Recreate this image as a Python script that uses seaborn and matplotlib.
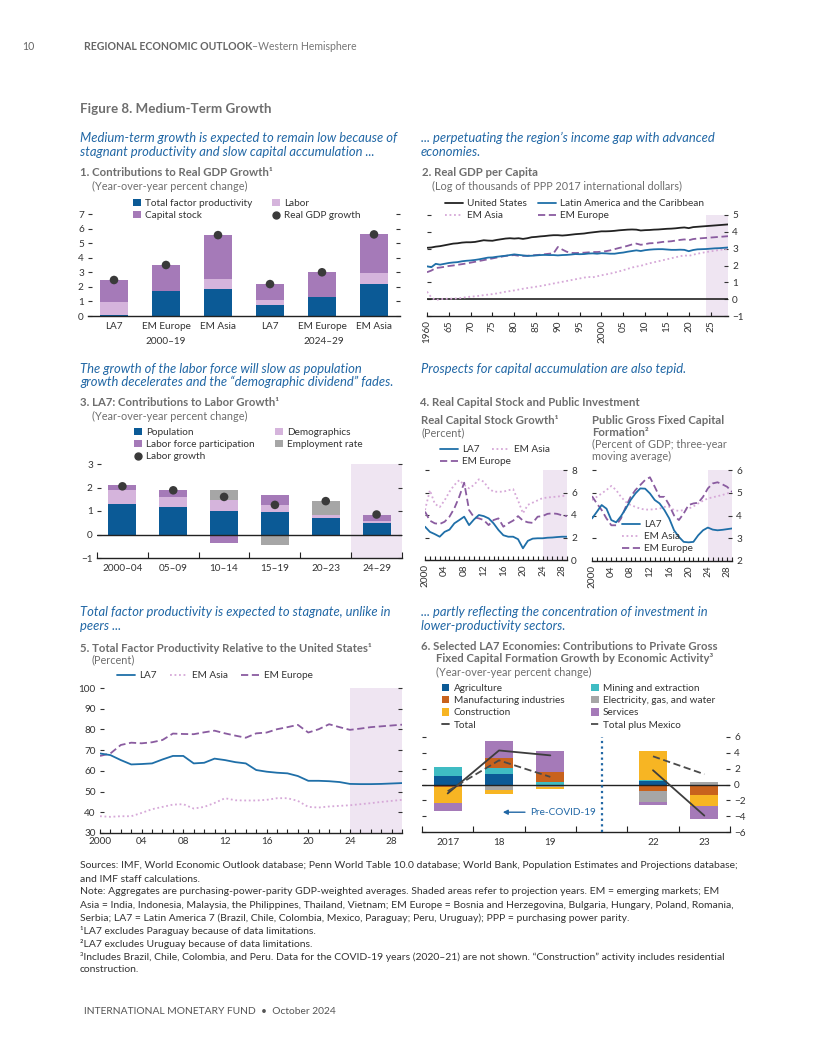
#%% Bibliotecas
import numpy as np
import matplotlib
matplotlib.use('Agg')
import matplotlib.pyplot as plt
import seaborn as sns
from matplotlib.patches import Patch
from matplotlib.lines import Line2D

sns.set_theme(style="white")
plt.rcParams['font.family'] = ['Lato', 'DejaVu Sans']

#%% Dados

# Painel 1: contribuições ao crescimento do PIB real
p1_groups = ['LA7', 'EM Europe', 'EM Asia', 'LA7', 'EM Europe', 'EM Asia']
p1_tfp = [0.09, 1.70, 1.87, 0.76, 1.27, 2.19]
p1_labor = [0.88, 0.00, 0.66, 0.32, 0.04, 0.74]
p1_capital = [1.50, 1.80, 3.05, 1.09, 1.69, 2.72]
p1_gdp = [2.47, 3.50, 5.55, 2.19, 3.00, 5.60]

# Painel 2: PIB real per capita (log)
p2_years = list(range(1960, 2030))
p2_us = [3.05, 3.07, 3.12, 3.15, 3.20, 3.25, 3.30, 3.32, 3.36, 3.38,
         3.38, 3.40, 3.45, 3.50, 3.48, 3.47, 3.52, 3.56, 3.60, 3.62,
         3.60, 3.62, 3.58, 3.62, 3.68, 3.70, 3.73, 3.75, 3.78, 3.80,
         3.80, 3.78, 3.80, 3.83, 3.86, 3.88, 3.90, 3.94, 3.97, 4.00,
         4.03, 4.03, 4.04, 4.06, 4.09, 4.11, 4.13, 4.14, 4.13, 4.08,
         4.10, 4.11, 4.13, 4.14, 4.16, 4.18, 4.19, 4.21, 4.24, 4.26,
         4.22, 4.28, 4.30, 4.32, 4.34, 4.36, 4.38, 4.40, 4.42, 4.44]
p2_lac = [1.95, 1.90, 2.10, 2.05, 2.10, 2.15, 2.18, 2.20, 2.25, 2.28,
          2.30, 2.33, 2.37, 2.42, 2.47, 2.48, 2.52, 2.55, 2.58, 2.62,
          2.66, 2.63, 2.60, 2.57, 2.58, 2.60, 2.62, 2.63, 2.62, 2.62,
          2.60, 2.62, 2.63, 2.65, 2.68, 2.67, 2.68, 2.71, 2.72, 2.70,
          2.73, 2.72, 2.70, 2.70, 2.74, 2.77, 2.82, 2.86, 2.90, 2.86,
          2.91, 2.94, 2.96, 2.97, 2.97, 2.95, 2.93, 2.93, 2.94, 2.93,
          2.85, 2.92, 2.96, 2.97, 2.98, 3.00, 3.02, 3.03, 3.05, 3.07]
p2_asia = [0.45, 0.10, -0.05, 0.00, 0.02, 0.03, 0.03, 0.05, 0.08, 0.12,
           0.15, 0.17, 0.20, 0.24, 0.27, 0.30, 0.34, 0.39, 0.44, 0.48,
           0.52, 0.57, 0.62, 0.66, 0.70, 0.74, 0.78, 0.83, 0.88, 0.93,
           0.98, 1.03, 1.08, 1.13, 1.18, 1.23, 1.28, 1.32, 1.30, 1.36,
           1.42, 1.47, 1.52, 1.58, 1.65, 1.72, 1.80, 1.88, 1.94, 1.98,
           2.06, 2.13, 2.19, 2.25, 2.31, 2.37, 2.43, 2.49, 2.55, 2.60,
           2.57, 2.64, 2.70, 2.75, 2.80, 2.84, 2.88, 2.92, 2.96, 3.00]
p2_eur = [1.60, 1.70, 1.85, 1.88, 1.92, 1.97, 2.00, 2.04, 2.08, 2.12,
          2.17, 2.22, 2.27, 2.32, 2.37, 2.42, 2.47, 2.52, 2.57, 2.60,
          2.62, 2.58, 2.57, 2.58, 2.60, 2.62, 2.64, 2.67, 2.70, 2.72,
          3.10, 2.95, 2.82, 2.75, 2.74, 2.75, 2.76, 2.78, 2.80, 2.80,
          2.82, 2.85, 2.90, 2.97, 3.04, 3.10, 3.17, 3.25, 3.30, 3.23,
          3.27, 3.32, 3.33, 3.36, 3.40, 3.42, 3.44, 3.48, 3.52, 3.55,
          3.50, 3.57, 3.60, 3.62, 3.64, 3.66, 3.68, 3.70, 3.72, 3.74]
p2_ticklabels = ['1960', '65', '70', '75', '80', '85', '90', '95',
                 '2000', '05', '10', '15', '20', '25']

# Painel 3: LA7, contribuições ao crescimento do trabalho
p3_periods = ['2000–04', '05–09', '10–14', '15–19', '20–23', '24–29']
p3_pop = [1.28, 1.16, 0.99, 0.95, 0.70, 0.49]
p3_demo = [0.63, 0.44, 0.46, 0.29, 0.12, 0.10]
p3_lfp = [0.21, 0.31, -0.35, 0.46, 0.00, 0.26]
p3_emp = [0.00, 0.00, 0.46, -0.46, 0.59, 0.00]
p3_growth = [2.05, 1.88, 1.60, 1.26, 1.42, 0.85]

# Painéis 4 e 5: séries anuais 2000-2029
yrs = list(range(2000, 2030))
yr_labels = ['2000', '04', '08', '12', '16', '20', '24', '28']
p4a_la7 = [2.96, 2.50, 2.30, 2.07, 2.50, 2.70, 3.26, 3.55, 3.85, 3.10,
           3.60, 4.00, 3.90, 3.70, 3.26, 2.67, 2.20, 2.07, 2.07, 1.85,
           1.04, 1.70, 1.90, 1.93, 1.93, 1.98, 2.00, 2.04, 2.07, 2.07]
p4a_asia = [4.44, 6.20, 5.00, 4.70, 5.30, 6.07, 6.67, 7.10, 6.67, 6.37,
            6.67, 7.17, 6.96, 6.37, 6.07, 6.07, 6.07, 6.20, 6.30, 5.30,
            4.15, 4.90, 5.10, 5.30, 5.50, 5.55, 5.60, 5.63, 5.70, 5.70]
p4a_eur = [4.30, 3.50, 3.26, 3.20, 3.40, 3.85, 4.60, 5.63, 6.87, 4.44,
           3.80, 3.70, 3.55, 3.10, 3.55, 3.70, 2.96, 3.26, 3.50, 3.90,
           3.50, 3.35, 3.30, 3.85, 3.90, 4.10, 4.15, 4.10, 3.97, 3.90]
p4b_la7 = [3.87, 4.16, 4.46, 4.30, 3.80, 3.70, 3.97, 4.30, 4.68, 4.97,
           5.19, 5.18, 4.97, 4.68, 4.53, 4.24, 3.87, 3.35, 3.06, 2.84,
           2.82, 2.84, 3.13, 3.35, 3.47, 3.38, 3.35, 3.37, 3.40, 3.43]
p4b_asia = [4.68, 4.82, 4.97, 5.12, 5.30, 5.12, 4.82, 4.60, 4.46, 4.38,
            4.30, 4.26, 4.26, 4.28, 4.30, 4.38, 4.38, 4.24, 4.20, 4.24,
            4.30, 4.40, 4.53, 4.65, 4.75, 4.80, 4.85, 4.90, 4.97, 5.04]
p4b_eur = [4.85, 4.53, 4.24, 3.87, 3.57, 3.57, 3.87, 4.38, 4.82, 5.12,
           5.34, 5.56, 5.68, 5.26, 4.82, 4.82, 4.46, 4.00, 3.80, 4.09,
           4.46, 4.53, 4.56, 4.82, 5.19, 5.41, 5.46, 5.37, 5.26, 5.04]
p5_la7 = [68.4, 67.6, 65.2, 63.1, 63.3, 63.6, 65.5, 67.2, 67.2, 63.6,
          63.9, 65.9, 65.2, 64.2, 63.6, 60.4, 59.6, 59.1, 58.8, 57.5,
          55.2, 55.2, 55.0, 54.6, 53.7, 53.6, 53.6, 53.7, 53.9, 54.1]
p5_asia = [38.1, 37.8, 38.1, 38.1, 39.7, 41.5, 42.6, 43.7, 43.9, 41.8,
           42.6, 44.5, 46.8, 45.8, 45.7, 45.7, 46.0, 46.8, 46.8, 45.5,
           42.6, 42.3, 42.8, 43.1, 43.4, 43.9, 44.4, 45.0, 45.5, 46.0]
p5_eur = [67.2, 68.4, 72.5, 73.6, 73.3, 73.8, 74.9, 78.0, 77.8, 77.7,
          78.6, 79.4, 78.1, 77.0, 76.0, 78.1, 78.5, 80.1, 81.1, 82.2,
          78.5, 80.1, 82.5, 81.1, 79.8, 80.4, 81.1, 81.5, 81.9, 82.3]

# Painel 6: FBCF privada por atividade
p6_years = [2017, 2018, 2019, 2022, 2023]
p6_labels = ['2017', '18', '19', '22', '23']
p6_agri = [1.05, 1.30, 0.00, 0.46, 0.00]
p6_mining = [1.13, 0.75, 0.33, 0.17, 0.00]
p6_manuf = [-0.30, 1.30, 1.27, -0.80, -1.34]
p6_elec = [0.00, -0.70, -0.33, -1.40, 0.30]
p6_constr = [-2.00, -0.50, -0.27, 3.55, -1.38]
p6_serv = [-1.00, 2.13, 2.58, -0.33, -1.58]
p6_total = [-1.13, 4.30, 3.68, 1.80, -3.93]
p6_total_mex = [-0.85, 3.05, 0.96, 3.56, 1.30]

#%% Cores
BLUE = '#0b5a96'
LINEBLUE = '#1f6fa8'
PURPLE = '#a57ab8'
LPURPLE = '#d5b4dc'
GRAY = '#a6a6a6'
DOT = '#3a3a3a'
ASIA = '#d6a8d8'
EUR = '#8a5ca0'
SHADE = '#efe5f2'
TEAL = '#3fbcc3'
ORANGE = '#c8621d'
YELLOW = '#f7b523'
TITLE = '#6e6e6e'
ITAL = '#2167a5'
DOTTED = (0, (1, 1.5))
DASHED = (0, (4, 2))

#%% Figura e funções auxiliares
W, H = 816, 1056
fig = plt.figure(figsize=(W / 100, H / 100), dpi=100)


def ax_px(x0, y0, x1, y1):
    ax = fig.add_axes([x0 / W, 1 - y1 / H, (x1 - x0) / W, (y1 - y0) / H])
    ax.set_facecolor('none')
    for s in ['top', 'left', 'right']:
        ax.spines[s].set_visible(False)
    ax.spines['bottom'].set_color('#222222')
    ax.spines['bottom'].set_linewidth(1)
    return ax


def y_style(ax, ylim, ticks, side):
    ax.set_ylim(*ylim)
    ax.set_yticks(ticks)
    ax.tick_params(axis='y', direction='in', length=3, width=0.8, color='#333333',
                   left=True, right=True, labelleft=(side == 'left'),
                   labelright=(side == 'right'), labelsize=7.2, labelcolor='#333333', pad=3)


def x_years(ax, rot):
    ax.set_xlim(2000, 2029)
    ax.set_xticks(range(2000, 2029, 4))
    ax.set_xticklabels(yr_labels, rotation=rot)
    ax.set_xticks(yrs, minor=True)
    ax.tick_params(axis='x', which='both', direction='in', bottom=True, length=3,
                   width=0.8, color='#222222', labelsize=7.2, labelcolor='#333333', pad=3)


def x_cats(ax, labels, pos, n):
    ax.set_xlim(-0.5, n - 0.5)
    ax.set_xticks(pos)
    ax.set_xticklabels(labels)
    ax.set_xticks(np.arange(-0.5, n, 1.0), minor=True)
    ax.tick_params(axis='x', which='major', length=0, labelsize=7.2, labelcolor='#333333', pad=4)
    ax.tick_params(axis='x', which='minor', direction='in', bottom=True, length=4,
                   width=0.8, color='#222222')


def stack(ax, x, parts, colors, width=0.55):
    pos = np.zeros(len(x))
    neg = np.zeros(len(x))
    for vals, c in zip(parts, colors):
        v = np.array(vals, dtype=float)
        base = np.where(v >= 0, pos, neg)
        ax.bar(x, v, width, bottom=base, color=c, linewidth=0, zorder=2)
        pos = pos + np.clip(v, 0, None)
        neg = neg + np.clip(v, None, 0)


def txt(x, y, s, **kw):
    kw.setdefault('va', 'center')
    kw.setdefault('color', '#333333')
    return fig.text(x / W, 1 - y / H, s, **kw)


def title(x, y, s):
    txt(x, y, s, fontsize=8.2, fontweight='bold', color=TITLE)


def sub(x, y, s):
    txt(x, y, s, fontsize=7.8, color=TITLE)


def blue(x, y, s):
    txt(x, y, s, fontsize=9.4, style='italic', color=ITAL)


def legend_at(handles, labels, x, y, hl=0.75):
    fig.legend(handles, labels, loc='upper left', bbox_to_anchor=(x / W, 1 - (y - 5) / H),
               frameon=False, fontsize=7.2, handlelength=hl, handleheight=0.75,
               handletextpad=0.45, labelspacing=0.3, borderpad=0, borderaxespad=0,
               labelcolor='#333333')


def sq(c):
    return Patch(facecolor=c, edgecolor='none')


def ln(c, ls='-'):
    return Line2D([], [], color=c, lw=1.3, linestyle=ls)


dot = Line2D([], [], color=DOT, marker='o', markersize=5, linestyle='none')

#%% Cabeçalho e textos
txt(22, 47, '10', fontsize=7.6, color='#666666')
txt(84, 47, 'REGIONAL ECONOMIC OUTLOOK', fontsize=7.6, fontweight='bold', color='#666666')
txt(252, 47, '–Western Hemisphere', fontsize=7.6, color='#777777')
txt(80, 109, 'Figure 8. Medium-Term Growth', fontsize=9.6, fontweight='bold', color=TITLE)

blue(80, 138, 'Medium-term growth is expected to remain low because of')
blue(80, 152, 'stagnant productivity and slow capital accumulation ...')
blue(421, 138, '... perpetuating the region’s income gap with advanced')
blue(421, 152, 'economies.')
blue(80, 369, 'The growth of the labor force will slow as population')
blue(80, 382, 'growth decelerates and the “demographic dividend” fades.')
blue(421, 369, 'Prospects for capital accumulation are also tepid.')
blue(80, 612, 'Total factor productivity is expected to stagnate, unlike in')
blue(80, 626, 'peers ...')
blue(421, 612, '... partly reflecting the concentration of investment in')
blue(421, 626, 'lower-productivity sectors.')

#%% Painel 1
title(80, 173, '1. Contributions to Real GDP Growth¹')
sub(92, 186, '(Year-over-year percent change)')
ax1 = ax_px(88, 214, 400, 316)
x1 = np.arange(len(p1_groups))
stack(ax1, x1, [p1_tfp, p1_labor, p1_capital], [BLUE, LPURPLE, PURPLE])
sns.scatterplot(x=x1, y=p1_gdp, ax=ax1, color=DOT, s=38, edgecolor='none', zorder=5)
y_style(ax1, (0, 7), range(0, 8), 'left')
ax1.set_xlim(-0.5, 5.5)
ax1.set_xticks(x1)
ax1.set_xticklabels(p1_groups)
ax1.tick_params(axis='x', length=0, labelsize=7.2, labelcolor='#333333', pad=4)
txt(166, 341, '2000–19', ha='center', fontsize=7.2)
txt(324, 341, '2024–29', ha='center', fontsize=7.2)
legend_at([sq(BLUE), sq(PURPLE)], ['Total factor productivity', 'Capital stock'], 133, 204)
legend_at([sq(LPURPLE), dot], ['Labor', 'Real GDP growth'], 272, 204)

#%% Painel 2
title(422, 173, '2. Real GDP per Capita')
sub(432, 186, '(Log of thousands of PPP 2017 international dollars)')
ax2 = ax_px(427, 215, 728, 316)
ax2.axvspan(2024, 2029, color=SHADE, lw=0, zorder=0)
ax2.axhline(0, color='#222222', lw=1.2, zorder=1)
sns.lineplot(x=p2_years, y=p2_asia, ax=ax2, color=ASIA, lw=1.3, linestyle=DOTTED)
sns.lineplot(x=p2_years, y=p2_eur, ax=ax2, color=EUR, lw=1.3, linestyle=DASHED)
sns.lineplot(x=p2_years, y=p2_lac, ax=ax2, color=LINEBLUE, lw=1.3)
sns.lineplot(x=p2_years, y=p2_us, ax=ax2, color='#222222', lw=1.3)
y_style(ax2, (-1, 5), range(-1, 6), 'right')
ax2.set_xlim(1960, 2029)
ax2.set_xticks(range(1960, 2026, 5))
ax2.set_xticklabels(p2_ticklabels, rotation=90)
ax2.tick_params(axis='x', direction='in', bottom=True, length=3, width=0.8,
                color='#222222', labelsize=7.2, labelcolor='#333333', pad=3)
legend_at([ln('#222222'), ln(ASIA, DOTTED)], ['United States', 'EM Asia'], 445, 204, hl=1.8)
legend_at([ln(LINEBLUE), ln(EUR, DASHED)], ['Latin America and the Caribbean', 'EM Europe'], 538, 204, hl=1.8)

#%% Painel 3
title(80, 403, '3. LA7: Contributions to Labor Growth¹')
sub(92, 416, '(Year-over-year percent change)')
ax3 = ax_px(97, 464, 402, 558)
x3 = np.arange(len(p3_periods))
ax3.axvspan(4.5, 5.5, color=SHADE, lw=0, zorder=0)
stack(ax3, x3, [p3_pop, p3_demo, p3_lfp, p3_emp], [BLUE, LPURPLE, PURPLE, GRAY])
ax3.axhline(0, color='#222222', lw=1, zorder=3)
sns.scatterplot(x=x3, y=p3_growth, ax=ax3, color=DOT, s=38, edgecolor='none', zorder=5)
y_style(ax3, (-1, 3), range(-1, 4), 'left')
x_cats(ax3, p3_periods, x3, len(p3_periods))
legend_at([sq(BLUE), sq(PURPLE), dot], ['Population', 'Labor force participation', 'Labor growth'], 134, 433)
legend_at([sq(LPURPLE), sq(GRAY)], ['Demographics', 'Employment rate'], 275, 433)

#%% Painel 4
title(420, 403, '4. Real Capital Stock and Public Investment')
title(421, 421, 'Real Capital Stock Growth¹')
sub(421, 433, '(Percent)')
title(592, 421, 'Public Gross Fixed Capital')
title(592, 433, 'Formation²')
sub(592, 444, '(Percent of GDP; three-year')
sub(592, 456, 'moving average)')

ax4a = ax_px(425, 470, 567, 560)
ax4a.axvspan(2024, 2029, color=SHADE, lw=0, zorder=0)
sns.lineplot(x=yrs, y=p4a_asia, ax=ax4a, color=ASIA, lw=1.3, linestyle=DOTTED)
sns.lineplot(x=yrs, y=p4a_eur, ax=ax4a, color=EUR, lw=1.3, linestyle=DASHED)
sns.lineplot(x=yrs, y=p4a_la7, ax=ax4a, color=LINEBLUE, lw=1.3)
y_style(ax4a, (0, 8), range(0, 9, 2), 'right')
x_years(ax4a, 90)
legend_at([ln(LINEBLUE), ln(EUR, DASHED)], ['LA7', 'EM Europe'], 440, 450, hl=1.8)
legend_at([ln(ASIA, DOTTED)], ['EM Asia'], 492, 450, hl=1.8)

ax4b = ax_px(592, 470, 732, 561)
ax4b.axvspan(2024, 2029, color=SHADE, lw=0, zorder=0)
sns.lineplot(x=yrs, y=p4b_asia, ax=ax4b, color=ASIA, lw=1.3, linestyle=DOTTED)
sns.lineplot(x=yrs, y=p4b_eur, ax=ax4b, color=EUR, lw=1.3, linestyle=DASHED)
sns.lineplot(x=yrs, y=p4b_la7, ax=ax4b, color=LINEBLUE, lw=1.3)
y_style(ax4b, (2, 6), range(2, 7), 'right')
x_years(ax4b, 90)
legend_at([ln(LINEBLUE), ln(ASIA, DOTTED), ln(EUR, DASHED)], ['LA7', 'EM Asia', 'EM Europe'],
          622, 525, hl=1.8)

#%% Painel 5
title(80, 649, '5. Total Factor Productivity Relative to the United States¹')
sub(92, 660, '(Percent)')
ax5 = ax_px(100, 688, 402, 833)
ax5.axvspan(2024, 2029, color=SHADE, lw=0, zorder=0)
sns.lineplot(x=yrs, y=p5_asia, ax=ax5, color=ASIA, lw=1.3, linestyle=DOTTED)
sns.lineplot(x=yrs, y=p5_eur, ax=ax5, color=EUR, lw=1.3, linestyle=DASHED)
sns.lineplot(x=yrs, y=p5_la7, ax=ax5, color=LINEBLUE, lw=1.3)
y_style(ax5, (30, 100), range(30, 101, 10), 'left')
x_years(ax5, 0)
legend_at([ln(LINEBLUE)], ['LA7'], 117, 676, hl=1.8)
legend_at([ln(ASIA, DOTTED)], ['EM Asia'], 170, 676, hl=1.8)
legend_at([ln(EUR, DASHED)], ['EM Europe'], 241, 676, hl=1.8)

#%% Painel 6
title(421, 647, '6. Selected LA7 Economies: Contributions to Private Gross')
title(436, 659, 'Fixed Capital Formation Growth by Economic Activity³')
sub(436, 672, '(Year-over-year percent change)')
ax6 = ax_px(422, 737, 730, 832)
yr6 = np.array(p6_years)
# anos da COVID-19 (2020-21) ocupam um único espaço vazio
x6 = np.where(yr6 > 2021, yr6 - 2018, yr6 - 2017)
stack(ax6, x6, [p6_agri, p6_mining, p6_manuf, p6_elec, p6_constr, p6_serv],
      [BLUE, TEAL, ORANGE, GRAY, YELLOW, PURPLE])
ax6.axhline(0, color='#222222', lw=1, zorder=3)
pre = yr6 < 2020
for m in [pre, ~pre]:
    sns.lineplot(x=x6[m], y=np.array(p6_total)[m], ax=ax6, color='#3d3d3d', lw=1.3, zorder=4)
    sns.lineplot(x=x6[m], y=np.array(p6_total_mex)[m], ax=ax6, color='#4a4a4a', lw=1.3,
                 linestyle=DASHED, zorder=4)
ax6.axvline(3, color=ITAL, lw=1.6, linestyle=DOTTED, zorder=4)
ax6.annotate('', xy=(1.02, -3.5), xytext=(1.56, -3.5),
             arrowprops=dict(arrowstyle='-|>', color=ITAL, lw=1, mutation_scale=7))
ax6.text(1.6, -3.5, 'Pre-COVID-19', color=ITAL, fontsize=7.2, va='center')
y_style(ax6, (-6, 6), range(-6, 7, 2), 'right')
x_cats(ax6, p6_labels, x6, 6)
legend_at([sq(BLUE), sq(ORANGE), sq(YELLOW), ln('#3d3d3d')],
          ['Agriculture', 'Manufacturing industries', 'Construction', 'Total'], 442, 689)
legend_at([sq(TEAL), sq(GRAY), sq(PURPLE), ln('#4a4a4a', DASHED)],
          ['Mining and extraction', 'Electricity, gas, and water', 'Services', 'Total plus Mexico'],
          591, 689)

#%% Notas e rodapé
notas = [
    'Sources: IMF, World Economic Outlook database; Penn World Table 10.0 database; World Bank, Population Estimates and Projections database;',
    'and IMF staff calculations.',
    'Note: Aggregates are purchasing-power-parity GDP-weighted averages. Shaded areas refer to projection years. EM = emerging markets; EM',
    'Asia = India, Indonesia, Malaysia, the Philippines, Thailand, Vietnam; EM Europe = Bosnia and Herzegovina, Bulgaria, Hungary, Poland, Romania,',
    'Serbia; LA7 = Latin America 7 (Brazil, Chile, Colombia, Mexico, Paraguay; Peru, Uruguay); PPP = purchasing power parity.',
    '¹LA7 excludes Paraguay because of data limitations.',
    '²LA7 excludes Uruguay because of data limitations.',
    '³Includes Brazil, Chile, Colombia, and Peru. Data for the COVID-19 years (2020–21) are not shown. “Construction” activity includes residential',
    'construction.',
]
for i, linha in enumerate(notas):
    txt(80, 866 + 13 * i, linha, fontsize=7.45, color='#333333')

txt(84, 1011, 'INTERNATIONAL MONETARY FUND  •  October 2024', fontsize=7.35, color='#555555')

plt.savefig('out.png', dpi=100)
